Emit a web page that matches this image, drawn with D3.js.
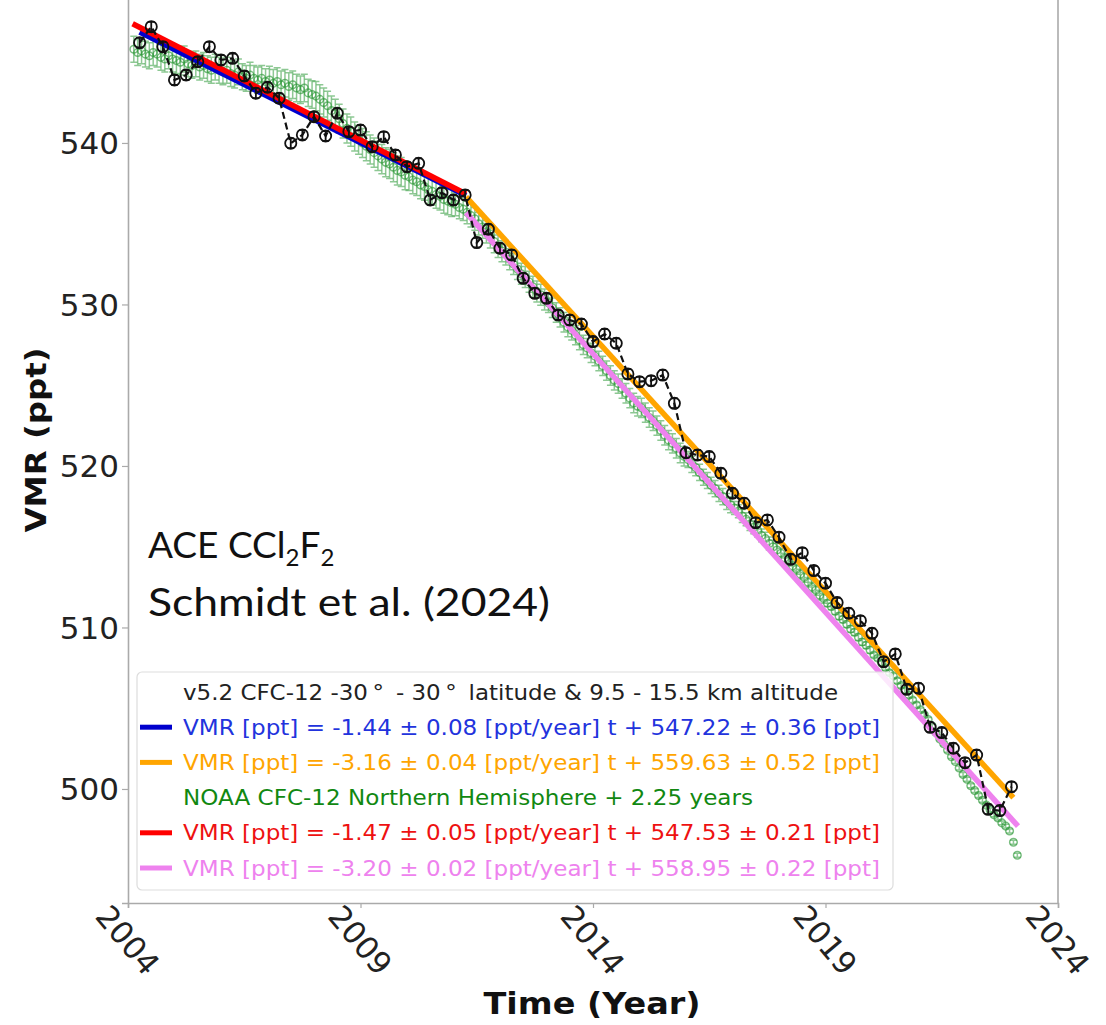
<!DOCTYPE html>
<html><head><meta charset="utf-8">
<script src="https://cdn.jsdelivr.net/npm/d3@7"></script>
<style>
html,body{margin:0;padding:0;background:#fff;}
svg{display:block;}
</style></head>
<body>
<svg id="chart" width="1106" height="1025"></svg>
<script>
// ---------------- DATA ----------------
const xTicks = [2004, 2009, 2014, 2019, 2024];
const yTicks = [500, 510, 520, 530, 540];

// ACE-FTS v5.2 CFC-12 (quarterly), starting 2004.25
const aceStart = 2004.25, aceStep = 0.25;
const aceValues = [
  546.21, 547.20, 545.96, 543.90, 544.21, 545.03, 545.96, 545.14, 545.24, 544.15,
  543.08, 543.45, 542.77, 539.98, 540.50, 541.63, 540.43, 541.84, 540.70, 540.80,
  539.77, 540.39, 539.26, 538.53, 538.74, 536.47, 536.92, 536.47, 536.78, 533.83,
  534.66, 533.48, 533.07, 531.62, 530.69, 530.38, 529.35, 529.04, 528.79, 527.70,
  528.17, 527.60, 525.70, 525.22, 525.28, 525.63, 523.88, 520.82, 520.68, 520.58,
  519.55, 518.31, 517.69, 516.49, 516.66, 515.59, 514.22, 514.63, 513.52, 512.74,
  511.54, 510.88, 510.42, 509.64, 507.88, 508.36, 506.17, 506.24, 503.82, 503.49,
  502.52, 501.63, 502.10, 498.74, 498.66, 500.14
];
const aceErr = 0.3;

// NOAA CFC-12 NH (monthly, shifted +2.25 yr), starting 2004.125
const noaaStart = 2004.125, noaaStep = 1 / 12;
const noaaValues = [
  545.8, 545.6, 545.7, 545.5, 545.4, 545.6, 545.5, 545.3, 545.2, 545.4, 545.2,
  545.1, 545.0, 545.2, 544.9, 544.8, 544.9, 544.7, 544.8, 544.6, 544.5, 544.7, 544.5,
  544.4, 544.5, 544.3, 544.2, 544.4, 544.1, 544.0, 544.2, 544.0, 543.9, 544.0, 543.8,
  543.9, 543.7, 543.8, 543.6, 543.7, 543.5, 543.6, 543.4, 543.3, 543.4, 543.1, 543.0,
  542.9, 542.7, 542.5, 542.3, 542.0, 541.8, 541.5, 541.2, 540.9, 540.7, 540.4, 540.2,
  540.0, 539.8, 539.6, 539.4, 539.2, 539.0, 538.8, 538.7, 538.5, 538.3, 538.2, 538.0,
  537.9, 537.7, 537.6, 537.4, 537.3, 537.1, 537.0, 536.8, 536.7, 536.5, 536.4, 536.3,
  536.2, 536.0, 535.9, 535.7, 535.5, 535.3, 535.0, 534.8, 534.5, 534.2, 533.9, 533.6,
  533.3, 533.1, 532.8, 532.5, 532.2, 531.9, 531.7, 531.4, 531.1, 530.8, 530.6, 530.3,
  530.1, 529.8, 529.5, 529.2, 528.9, 528.6, 528.4, 528.1, 527.8, 527.5, 527.3, 527.0,
  526.8, 526.5, 526.2, 525.9, 525.6, 525.3, 525.1, 524.8, 524.5, 524.2, 523.9, 523.7,
  523.6, 523.3, 523.0, 522.8, 522.5, 522.2, 521.9, 521.6, 521.4, 521.1, 520.8, 520.6,
  520.4, 520.1, 519.9, 519.6, 519.3, 519.1, 518.8, 518.6, 518.3, 518.1, 517.8, 517.6,
  517.4, 517.2, 516.9, 516.7, 516.4, 516.2, 516.0, 515.7, 515.5, 515.2, 515.0, 514.8,
  514.6, 514.3, 514.1, 513.8, 513.6, 513.3, 513.1, 512.8, 512.5, 512.3, 512.0, 511.8,
  511.5, 511.3, 511.0, 510.7, 510.5, 510.2, 509.9, 509.7, 509.4, 509.1, 508.9, 508.6,
  508.3, 508.1, 507.8, 507.5, 507.2, 507.0, 506.7, 506.4, 506.1, 505.8, 505.5, 505.2,
  504.9, 504.6, 504.3, 503.9, 503.5, 503.1, 502.8, 502.4, 502.0, 501.7, 501.3, 500.9,
  500.6, 500.2, 499.9, 499.6, 499.3, 499.0, 498.7, 498.4, 498.2, 497.9, 497.7, 497.4,
  496.7, 495.9
];
// NOAA error-bar half-width by calendar year 2004..2023
const noaaErrYears = [2004,2005,2006,2007,2008,2009,2010,2011,2012,2013,2014,2015,2016,2017,2018,2019,2020,2021,2022,2023];
const noaaErrByYear = [0.8,0.8,0.8,0.85,0.9,0.9,0.85,0.7,0.65,0.6,0.6,0.6,0.5,0.4,0.3,0.2,0.15,0.12,0.12,0.12];

// Linear fits from the legend: VMR = slope * (year - 2004) + intercept
const fitSlopes     = [-1.44, -3.16, -1.47, -3.20];
const fitIntercepts = [547.22, 559.63, 547.53, 558.95];
const fitStart      = [2004.25, 2011.27, 2004.10, 2011.27];
const fitEnd        = [2011.27, 2023.04, 2011.27, 2023.14];
const fitColors     = ["#0000cd", "#ffa500", "#ff0000", "#ee82ee"];

const legendLabels = [
  "v5.2 CFC-12 -30\u2009\u00b0\u2009 - 30\u2009\u00b0\u2009 latitude & 9.5 - 15.5 km altitude",
  "VMR [ppt] = -1.44 \u00b1 0.08 [ppt/year] t + 547.22 \u00b1 0.36 [ppt]",
  "VMR [ppt] = -3.16 \u00b1 0.04 [ppt/year] t + 559.63 \u00b1 0.52 [ppt]",
  "NOAA CFC-12 Northern Hemisphere + 2.25 years",
  "VMR [ppt] = -1.47 \u00b1 0.05 [ppt/year] t + 547.53 \u00b1 0.21 [ppt]",
  "VMR [ppt] = -3.20 \u00b1 0.02 [ppt/year] t + 558.95 \u00b1 0.22 [ppt]"
];
const legendTextColors = ["#222222", "#2233dd", "#ffa500", "#118811", "#ee1111", "#ee82ee"];
const legendHandleColors = [null, "#0000cd", "#ffa500", null, "#ff0000", "#ee82ee"];
const legendTextWidths = [655, 697, 697, 570, 697, 697];

// ---------------- CHART ----------------
const svg = d3.select("#chart");
const L = 128, R = 1058, B = 903, T = -2.4;
const x = d3.scaleLinear().domain([2004, 2024]).range([L, R]);
const y = d3.scaleLinear().domain([492.94, 549.0]).range([B, T]);

svg.append("defs").append("clipPath").attr("id", "clip")
  .append("rect").attr("x", L).attr("y", T).attr("width", R - L).attr("height", B - T);

const plot = svg.append("g").attr("clip-path", "url(#clip)");

// NOAA points with error bars
const noaa = noaaValues.map((v, i) => {
  const yr = noaaStart + i * noaaStep;
  const k = noaaErrYears.indexOf(Math.floor(yr));
  return { yr, v, e: noaaErrByYear[k] };
});
const gN = plot.append("g").attr("stroke", "#2f9a3a").attr("fill", "none").attr("stroke-width", 1.5);
gN.selectAll("path.eb").data(noaa).join("path").attr("class", "eb")
  .attr("stroke-opacity", 0.55)
  .attr("d", d => {
    const cx = x(d.yr), y1 = y(d.v + d.e), y2 = y(d.v - d.e);
    return `M${cx},${y1}V${y2}M${cx - 3.5},${y1}H${cx + 3.5}M${cx - 3.5},${y2}H${cx + 3.5}`;
  });
gN.selectAll("circle").data(noaa).join("circle")
  .attr("stroke-opacity", 0.65)
  .attr("cx", d => x(d.yr)).attr("cy", d => y(d.v)).attr("r", 3.8);

// Fit lines
const line = d3.line().x(d => x(d[0])).y(d => y(d[1]));
fitSlopes.forEach((s, i) => {
  const pts = [fitStart[i], fitEnd[i]].map(yr => [yr, s * (yr - 2004) + fitIntercepts[i]]);
  plot.append("path").attr("d", line(pts)).attr("stroke", fitColors[i])
    .attr("stroke-width", 5.5).attr("fill", "none");
});

// ACE points
const ace = aceValues.map((v, i) => ({ yr: aceStart + i * aceStep, v }));
plot.append("path").attr("d", line(ace.map(d => [d.yr, d.v])))
  .attr("stroke", "#111").attr("stroke-width", 2.2).attr("stroke-dasharray", "7,4").attr("fill", "none");
const gA = plot.append("g").attr("stroke", "#111").attr("fill", "none").attr("stroke-width", 1.8);
gA.selectAll("path").data(ace).join("path")
  .attr("d", d => {
    const cx = x(d.yr), y1 = y(d.v + aceErr), y2 = y(d.v - aceErr);
    return `M${cx},${y1}V${y2}M${cx - 3.5},${y1}H${cx + 3.5}M${cx - 3.5},${y2}H${cx + 3.5}`;
  });
gA.selectAll("circle").data(ace).join("circle")
  .attr("cx", d => x(d.yr)).attr("cy", d => y(d.v)).attr("r", 5.6);

// Axes
const axisColor = "#aaaaaa";
const yAxis = svg.append("g").attr("transform", `translate(${L},0)`)
  .call(d3.axisLeft(y).tickValues(yTicks).tickSize(6).tickFormat(""));
const xAxis = svg.append("g").attr("transform", `translate(0,${B})`)
  .call(d3.axisBottom(x).tickValues(xTicks).tickSize(5).tickFormat(""));
[yAxis, xAxis].forEach(a => {
  a.selectAll("path.domain").attr("stroke", axisColor).attr("stroke-width", 1.6);
  a.selectAll(".tick line").attr("stroke", axisColor).attr("stroke-width", 1.2);
});
svg.append("line").attr("x1", R).attr("x2", R).attr("y1", T).attr("y2", B)
  .attr("stroke", axisColor).attr("stroke-width", 1.6);

// Y tick labels
svg.append("g").selectAll("text").data(yTicks).join("text")
  .attr("x", L - 9).attr("y", d => y(d)).attr("dy", "0.36em")
  .attr("text-anchor", "end").attr("font-family", "DejaVu Sans")
  .attr("font-size", 31).attr("fill", "#222")
  .text(d => d);

// X tick labels (rotated)
svg.append("g").selectAll("text").data(xTicks).join("text")
  .attr("transform", d => `translate(${x(d)},940) rotate(50)`)
  .attr("text-anchor", "middle").attr("dy", "0.36em")
  .attr("font-family", "DejaVu Sans").attr("font-size", 31).attr("fill", "#222")
  .text(d => d);

// Axis titles
svg.append("text").attr("x", 592).attr("y", 1014).attr("text-anchor", "middle")
  .attr("font-family", "DejaVu Sans").attr("font-weight", "bold").attr("font-size", 31)
  .attr("fill", "#111").attr("textLength", 217).attr("lengthAdjust", "spacingAndGlyphs")
  .text("Time (Year)");
svg.append("text").attr("transform", "translate(36,440) rotate(-90)").attr("text-anchor", "middle")
  .attr("dy", "0.36em")
  .attr("font-family", "DejaVu Sans").attr("font-weight", "bold").attr("font-size", 29)
  .attr("fill", "#111").attr("textLength", 185).attr("lengthAdjust", "spacingAndGlyphs")
  .text("VMR (ppt)");

// Annotation
const ann = svg.append("text").attr("font-family", "Lato, 'Open Sans', sans-serif")
  .attr("font-size", 37).attr("fill", "#111");
const a1 = ann.append("tspan").attr("x", 148).attr("y", 558);
a1.append("tspan").text("ACE CCl");
a1.append("tspan").attr("font-size", 24).attr("dy", 8).text("2");
a1.append("tspan").attr("dy", -8).text("F");
a1.append("tspan").attr("font-size", 24).attr("dy", 8).text("2");
svg.append("text").attr("x", 148).attr("y", 616)
  .attr("font-family", "Lato, 'Open Sans', sans-serif").attr("font-size", 38).attr("fill", "#111")
  .attr("textLength", 402).attr("lengthAdjust", "spacingAndGlyphs")
  .text("Schmidt et al. (2024)");

// Legend
const lg = svg.append("g");
lg.append("rect").attr("x", 137).attr("y", 672).attr("width", 756).attr("height", 218)
  .attr("rx", 5).attr("fill", "#fff").attr("fill-opacity", 0.82)
  .attr("stroke", "#dddddd").attr("stroke-width", 1.2);
const rowY = d3.scaleLinear().domain([0, 5]).range([692, 868]);
legendLabels.forEach((lab, i) => {
  if (legendHandleColors[i]) {
    lg.append("line").attr("x1", 140).attr("x2", 172).attr("y1", rowY(i)).attr("y2", rowY(i))
      .attr("stroke", legendHandleColors[i]).attr("stroke-width", 5);
  }
  lg.append("text").attr("x", 183).attr("y", rowY(i)).attr("dy", "0.36em")
    .attr("font-family", "DejaVu Sans").attr("font-size", 21).attr("fill", legendTextColors[i])
    .attr("textLength", legendTextWidths[i]).attr("lengthAdjust", "spacingAndGlyphs")
    .text(lab);
});
</script>
</body></html>
